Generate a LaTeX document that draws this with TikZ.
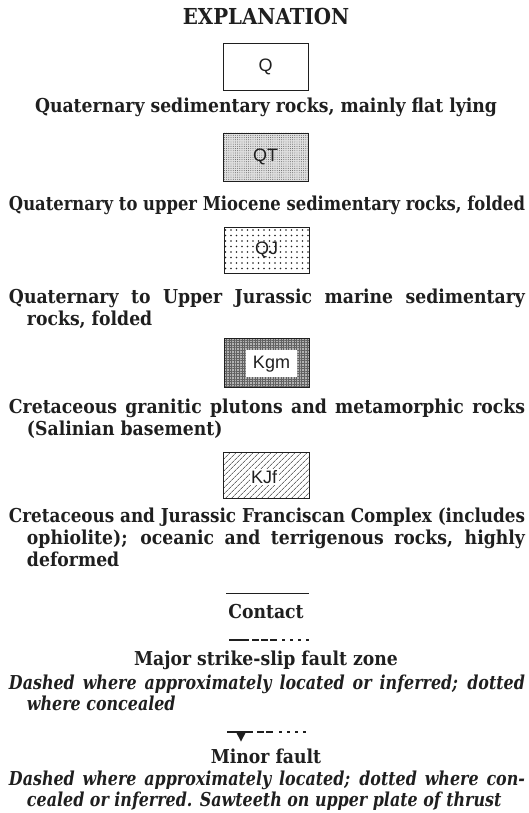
\documentclass[tikz,border=0pt]{standalone}
\usepackage{fontspec}
\newfontfamily\bodyfont{DejaVu Serif}[FakeStretch=0.9]
\newfontfamily\notefont{DejaVu Serif}[FakeStretch=0.83]
\newfontfamily\labelfont{Liberation Sans}
\usetikzlibrary{patterns.meta}
\newlength\natwd
\newlength\fitwd
\definecolor{ink}{gray}{0.12}
% body size chosen so the first caption spans its measured width
\AtBeginDocument{%
  \settowidth\natwd{\bodyfont\bfseries\fontsize{10}{12}\selectfont Quaternary sedimentary rocks, mainly flat lying}%
  \pgfmathsetmacro\fs{10*462/\natwd}%
  \xdef\fs{\fs}}
% justify one line to a given width, squeezing the glyphs a little if it runs long
\newcommand\fitline[2]{%
  \settowidth\fitwd{#2}%
  \ifdim\fitwd<#1\relax
    \makebox[#1][s]{#2}%
  \else
    \pgfmathsetmacro\fitratio{#1/\fitwd}%
    \scalebox{\fitratio}[1]{#2}%
  \fi}
\begin{document}
\begin{tikzpicture}[x=1pt,y=-1pt,
  every node/.style={inner sep=0pt,outer sep=0pt,text=ink},
  unitbox/.style={draw=ink,line width=0.9pt},
  boxlabel/.style={font=\labelfont\fontsize{18}{20}\selectfont},
  centreline/.style={anchor=base,font=\bodyfont\bfseries\fontsize{\fs}{\fs}\selectfont},
  leftline/.style={anchor=base west,font=\bodyfont\bfseries\fontsize{\fs}{\fs}\selectfont},
  noteline/.style={anchor=base west,font=\notefont\bfseries\itshape\fontsize{\fs}{\fs}\selectfont},
  faultline/.style={line width=2.4pt,draw=ink},
  faultdash/.style={line width=2.2pt,draw=ink},
]
\def\full#1{\fitline{516pt}{#1}}
\def\fullind#1{\fitline{498pt}{#1}}

\useasboundingbox (0,0) rectangle (529,813);

% heading
\node[anchor=base,font=\bodyfont\bfseries\fontsize{22}{24}\selectfont] (title) at (266,25) {EXPLANATION};

% Q
\draw[unitbox] (223,43) rectangle (308,90);
\node[boxlabel] (q) at (265.5,66.5) {Q};
\node[centreline] (tq) at (266,113) {Quaternary sedimentary rocks, mainly flat lying};

% QT
\fill[black!12] (223,133) rectangle (308,181);
\fill[pattern={Dots[distance=2.2pt,radius=0.45pt]},pattern color=black!70] (223,133) rectangle (308,181);
\draw[unitbox] (223,133) rectangle (308,181);
\node[boxlabel] (qt) at (265.5,157) {QT};
\node[leftline] (tqt) at (9,210) {\full{Quaternary to upper Miocene sedimentary rocks, folded}};

% QJ
\fill[pattern={Dots[distance=5.5pt,radius=0.8pt]},pattern color=ink] (224,227) rectangle (309,273);
\draw[unitbox] (224,227) rectangle (309,273);
\node[boxlabel] (qj) at (266.5,250) {QJ};
\node[leftline] (tqj1) at (9,303) {\full{Quaternary to Upper Jurassic marine sedimentary}};
\node[leftline] (tqj2) at (27,325) {rocks, folded};

% Kgm
\fill[black!30] (224,338) rectangle (309,387);
\fill[pattern={Hatch[angle=0,distance=2.6pt,line width=0.5pt]},pattern color=black!62] (224,338) rectangle (309,387);
\draw[unitbox] (224,338) rectangle (309,387);
\fill[white] (246,350) rectangle (297,377);
\node[boxlabel] (kgm) at (271.5,364) {Kgm};
\node[leftline] (tk1) at (9,413) {\full{Cretaceous granitic plutons and metamorphic rocks}};
\node[leftline] (tk2) at (27,435) {(Salinian basement)};

% KJf
\fill[pattern={Lines[angle=45,distance=4pt,line width=0.6pt]},pattern color=ink] (223,452) rectangle (309,498);
\draw[unitbox] (223,452) rectangle (309,498);
\node[boxlabel,fill=white,inner sep=1.5pt] (kjf) at (264,477) {KJf};
\node[leftline] (tf1) at (9,522) {\full{Cretaceous and Jurassic Franciscan Complex (includes}};
\node[leftline] (tf2) at (27,544) {\fullind{ophiolite); oceanic and terrigenous rocks, highly}};
\node[leftline] (tf3) at (27,566) {deformed};

% contact
\draw[line width=1pt,draw=ink] (226,593) -- (309,593);
\node[centreline] (tc) at (266,618) {Contact};

% major strike-slip fault
\draw[faultline] (229,640) -- (249,640);
\foreach \a in {252,261,270} \draw[faultdash] (\a,640) -- ++(7,0);
\foreach \a in {282,290,298,306} \draw[faultdash] (\a,640) -- ++(2.5,0);
\node[centreline] (tm) at (266,665) {Major strike-slip fault zone};
\node[noteline] (nm1) at (9,689) {\full{Dashed where approximately located or inferred; dotted}};
\node[noteline] (nm2) at (27,710) {where concealed};

% minor fault
\draw[faultline] (227,732) -- (253,732);
\fill[ink] (235.5,731) -- (246.5,731) -- (241,741.5) -- cycle;
\foreach \a in {257,266} \draw[faultdash] (\a,732) -- ++(7,0);
\foreach \a in {279,287,295,303} \draw[faultdash] (\a,732) -- ++(2.5,0);
\node[centreline] (tn) at (266,763) {Minor fault};
\node[noteline] (nn1) at (9,785) {\full{Dashed where approximately located; dotted where con-}};
\node[noteline] (nn2) at (27,806) {cealed or inferred. Sawteeth on upper plate of thrust};
\end{tikzpicture}
\end{document}
